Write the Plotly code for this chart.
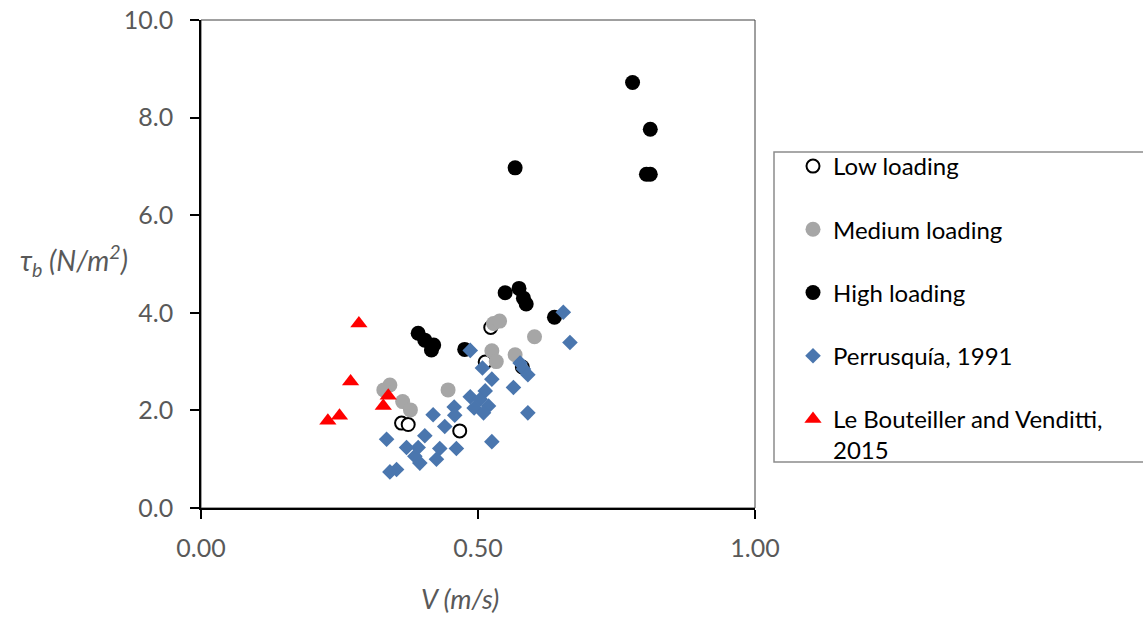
import plotly.graph_objects as go

# ---- data ----
low_v   = [0.523, 0.513, 0.580, 0.362, 0.374, 0.467]
low_tau = [3.70, 2.99, 2.89, 1.74, 1.71, 1.58]

med_v   = [0.528, 0.539, 0.602, 0.525, 0.533, 0.567, 0.446, 0.341, 0.330, 0.364, 0.378]
med_tau = [3.78, 3.83, 3.51, 3.22, 3.00, 3.14, 2.42, 2.52, 2.42, 2.18, 2.01]

high_v   = [0.779, 0.811, 0.804, 0.811, 0.567, 0.549, 0.574, 0.582, 0.587, 0.638,
            0.476, 0.392, 0.404, 0.420, 0.416]
high_tau = [8.72, 7.76, 6.84, 6.84, 6.97, 4.41, 4.50, 4.30, 4.18, 3.91,
            3.25, 3.58, 3.44, 3.34, 3.24]

perr_v   = [0.654, 0.666, 0.486, 0.508, 0.576, 0.582, 0.590, 0.525, 0.564, 0.513,
            0.486, 0.504, 0.519, 0.493, 0.510, 0.457, 0.458, 0.440, 0.419, 0.590,
            0.525, 0.461, 0.431, 0.404, 0.392, 0.371, 0.386, 0.395, 0.425, 0.353,
            0.341, 0.335]
perr_tau = [4.01, 3.39, 3.23, 2.87, 2.97, 2.85, 2.73, 2.64, 2.47, 2.40,
            2.28, 2.23, 2.09, 2.05, 1.95, 2.07, 1.90, 1.67, 1.91, 1.95,
            1.36, 1.22, 1.22, 1.48, 1.24, 1.24, 1.06, 0.92, 1.00, 0.79,
            0.74, 1.41]

lbv_v   = [0.285, 0.270, 0.250, 0.229, 0.338, 0.329]
lbv_tau = [3.78, 2.59, 1.89, 1.79, 2.30, 2.09]

x_ticks = [0.0, 0.5, 1.0]
x_tick_labels = ["0.00", "0.50", "1.00"]
y_ticks = [0, 2, 4, 6, 8, 10]
y_tick_labels = ["0.0", "2.0", "4.0", "6.0", "8.0", "10.0"]

names = ["Low loading", "Medium loading", "High loading", "Perrusquía, 1991",
         "Le Bouteiller and Venditti,<br>2015"]

FONT = "Lato"
GREY = "#595959"

# plot-area pixel geometry
L, R, T, B = 201, 755, 20, 508
W, H = R - L, B - T

fig = go.Figure()

fig.add_trace(go.Scatter(x=low_v, y=low_tau, mode="markers", name=names[0],
                         legendgroup="a",
                         marker=dict(symbol="circle", size=13, color="white",
                                     line=dict(color="black", width=2))))
fig.add_trace(go.Scatter(x=med_v, y=med_tau, mode="markers", name=names[1],
                         legendgroup="b",
                         marker=dict(symbol="circle", size=15, color="#A6A6A6",
                                     line=dict(width=0))))
fig.add_trace(go.Scatter(x=high_v, y=high_tau, mode="markers", name=names[2],
                         legendgroup="c",
                         marker=dict(symbol="circle", size=15, color="black",
                                     line=dict(width=0))))
fig.add_trace(go.Scatter(x=perr_v, y=perr_tau, mode="markers", name=names[3],
                         legendgroup="d",
                         marker=dict(symbol="diamond", size=12, color="#4A76AE",
                                     line=dict(width=0))))
fig.add_trace(go.Scatter(x=lbv_v, y=lbv_tau, mode="markers", name=names[4],
                         legendgroup="e",
                         marker=dict(symbol="triangle-up", size=15, color="#FF0000",
                                     line=dict(width=0))))

fig.update_layout(
    width=1143, height=619,
    margin=dict(l=L, r=1143 - R, t=T, b=619 - B, autoexpand=False),
    paper_bgcolor="white", plot_bgcolor="white",
    font=dict(family=FONT, size=20, color=GREY),
    showlegend=True,
    legend=dict(
        x=(793 - L) / W, xanchor="left", y=(B - 144) / H, yanchor="top",
        font=dict(family=FONT, size=24, color="black"),
        traceorder="grouped", tracegroupgap=29,
        valign="top", bgcolor="rgba(0,0,0,0)", borderwidth=0,
    ),
    xaxis=dict(range=[0, 1], tickvals=x_ticks, ticktext=x_tick_labels,
               showgrid=False, zeroline=False, showline=True,
               linecolor="black", linewidth=1.5, ticks="outside", ticklen=9,
               tickwidth=1.5, tickcolor="black", ticklabelstandoff=8,
               tickfont=dict(family=FONT, size=25, color=GREY)),
    yaxis=dict(range=[0, 10], tickvals=y_ticks, ticktext=y_tick_labels,
               showgrid=False, zeroline=False, showline=True,
               linecolor="black", linewidth=1.5, ticks="outside", ticklen=9,
               tickwidth=1.5, tickcolor="black", ticklabelstandoff=12,
               tickfont=dict(family=FONT, size=25, color=GREY)),
    shapes=[
        dict(type="rect", xref="paper", yref="paper", x0=0, x1=1, y0=0, y1=1,
             line=dict(color="#404040", width=1), layer="below"),
        dict(type="rect", xref="paper", yref="paper", x0=(774 - L) / W, x1=1.72,
             y0=(B - 462) / H, y1=(B - 152) / H,
             line=dict(color="#8C8C8C", width=1.5), layer="below"),
    ],
    annotations=[
        dict(text="<i>V (m/s)</i>", xref="paper", yref="paper",
             x=(460 - L) / W, y=(B - 598) / H, xanchor="center",
             yanchor="middle", showarrow=False,
             font=dict(family=FONT, size=27, color=GREY)),
        dict(text="<i>τ<sub>b</sub> (N/m<sup>2</sup>)</i>", xref="paper",
             yref="paper", x=(18 - L) / W, y=(B - 260) / H,
             xanchor="left", yanchor="middle", showarrow=False,
             font=dict(family=FONT, size=28, color=GREY)),
    ],
)

fig.write_html("out.html")
